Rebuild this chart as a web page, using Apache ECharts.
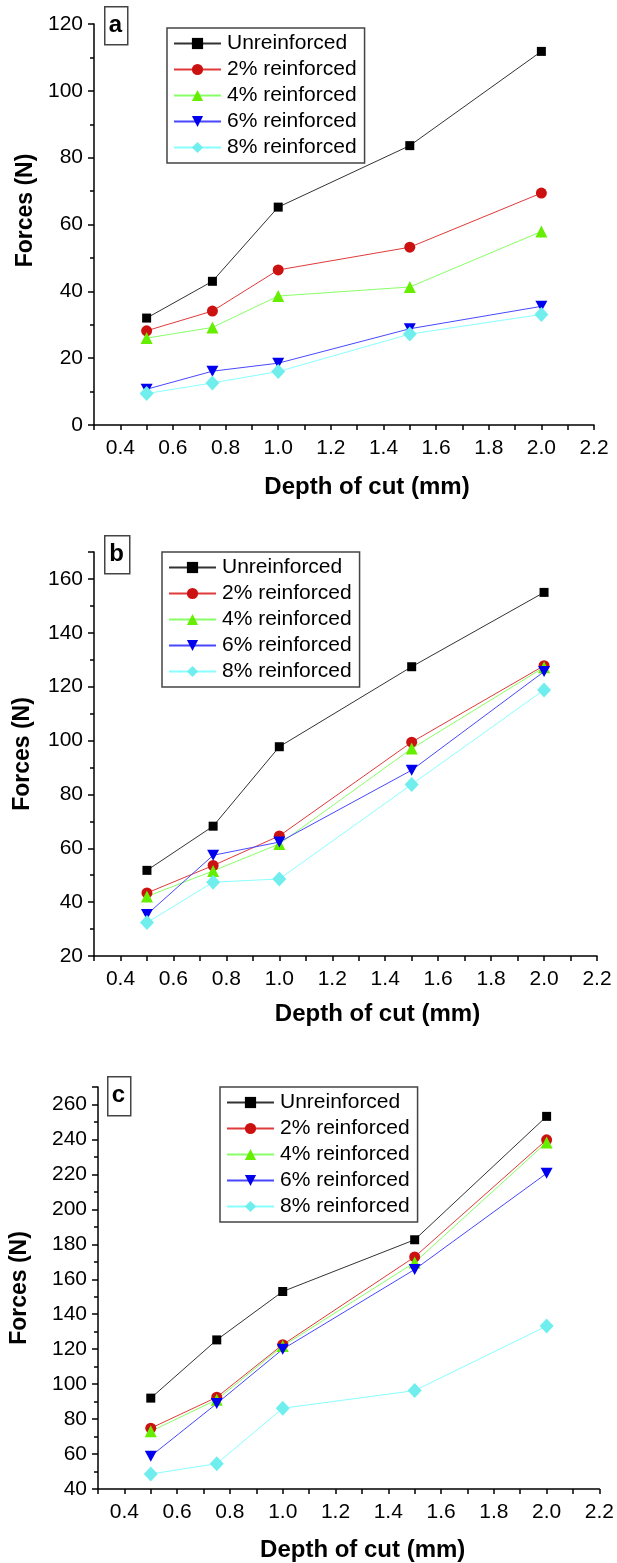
<!DOCTYPE html>
<html lang="en">
<head>
    <meta charset="UTF-8">
    <title>Forces vs depth of cut</title>
    <style>
        html, body { margin: 0; padding: 0; background: #fff; }
        #main { width: 617px; height: 1563px; }
    </style>
    <script src="https://cdn.jsdelivr.net/npm/echarts@6/dist/echarts.min.js"></script>
</head>
<body>
    <div id="main"></div>
    <script>
        // data
        var depth = [0.5, 0.75, 1.0, 1.5, 2.0];
        var seriesNames = ['Unreinforced', '2% reinforced', '4% reinforced', '6% reinforced', '8% reinforced'];

        // panel a
        var aUnreinforced = [32, 43, 65.2, 83.6, 111.8];
        var a2 = [28.2, 34.1, 46.4, 53.2, 69.4];
        var a4 = [26, 29.2, 38.6, 41.3, 57.9];
        var a6 = [10.7, 16.1, 18.5, 28.8, 35.5];
        var a8 = [9.4, 12.6, 16, 27.2, 33.1];

        // panel b
        var bUnreinforced = [51.8, 68.2, 97.7, 127.4, 155];
        var b2 = [43.4, 53.6, 64.6, 99.4, 127.8];
        var b4 = [42.1, 51.6, 61.6, 97, 127.2];
        var b6 = [35.4, 57.4, 62.3, 89, 125.6];
        var b8 = [32.4, 47.4, 48.6, 83.7, 118.8];

        // panel c
        var cUnreinforced = [92, 125.3, 153, 182.6, 253.2];
        var c2 = [74.8, 92.5, 122.6, 172.8, 239.8];
        var c4 = [73, 91.1, 121.8, 169.6, 238.3];
        var c6 = [58.8, 88.9, 120, 165.6, 220.6];
        var c8 = [48.6, 54.5, 86.2, 96.3, 133.2];

        var panelLetters = ['a', 'b', 'c'];
        var panelData = [
            [aUnreinforced, a2, a4, a6, a8],
            [bUnreinforced, b2, b4, b6, b8],
            [cUnreinforced, c2, c4, c6, c8]
        ];
        var yMin = [0, 20, 40];
        var yMax = [120, 170, 270];

        var FONT = "'Liberation Sans', Arial, sans-serif";

        var styles = [
            { symbol: 'rect', size: 9, marker: '#000000', line: '#333333' },
            { symbol: 'circle', size: 11, marker: '#cc1111', line: '#e03a3a' },
            { symbol: 'triangle', size: 12, marker: '#66ee00', line: '#88ff66' },
            { symbol: 'path://M0,0L10,0L5,9Z', size: [12, 11], marker: '#0000ee', line: '#4848ff' },
            { symbol: 'diamond', size: [14, 15], marker: '#70eeee', line: '#88ffff' }
        ];

        var grids = [
            { left: 94, right: 23, top: 24, bottom: 1138 },
            { left: 94, right: 20, top: 552, bottom: 607 },
            { left: 97, right: 17, top: 1087, bottom: 71 }
        ];
        var xNameGap = [50, 46, 49];
        var xNameShift = [46, 64, 28];
        var yNameGap = [54, 60, 67];
        var yNameShift = [28, 0, 0];

        var legendPos = [
            { left: 167, top: 28 },
            { left: 162, top: 552 },
            { left: 220, top: 1087 }
        ];
        var letterBox = [
            { x: 104, y: 6, w: 23, h: 38 },
            { x: 104, y: 535, w: 25, h: 38 },
            { x: 107, y: 1076, w: 23, h: 39 }
        ];

        var xAxes = [], yAxes = [], series = [], legends = [], graphics = [];

        for (var p = 0; p < 3; p++) {
            xAxes.push({
                type: 'value',
                gridIndex: p,
                min: 0.3,
                max: 2.2,
                interval: 0.1,
                name: 'Depth of cut (mm)',
                nameLocation: 'middle',
                nameGap: xNameGap[p],
                nameTextStyle: { fontFamily: FONT, fontSize: 24, fontWeight: 'bold', color: '#000', padding: [0, 0, 0, xNameShift[p]] },
                axisLine: { onZero: false, lineStyle: { color: '#000', width: 1.5 } },
                axisTick: { inside: false, length: 5, lineStyle: { color: '#000', width: 1.5 } },
                axisLabel: {
                    margin: 13,
                    fontFamily: FONT, fontSize: 21, color: '#000',
                    formatter: function (v) {
                        return Math.round(v * 10) % 2 === 0 ? v.toFixed(1) : '';
                    }
                },
                splitLine: { show: false }
            });
            yAxes.push({
                type: 'value',
                gridIndex: p,
                min: yMin[p],
                max: yMax[p],
                interval: 20,
                name: 'Forces (N)',
                nameLocation: 'middle',
                nameGap: yNameGap[p],
                nameTextStyle: { fontFamily: FONT, fontSize: 23, fontWeight: 'bold', color: '#000', padding: [0, 0, 0, yNameShift[p]] },
                axisLine: { onZero: false, lineStyle: { color: '#000', width: 1.5 } },
                axisTick: { inside: false, length: 6, lineStyle: { color: '#000', width: 1.5 } },
                minorTick: { show: true, splitNumber: 2, length: 4, lineStyle: { color: '#000', width: 1.5 } },
                axisLabel: {
                    margin: 11,
                    fontFamily: FONT, fontSize: 21, color: '#000',
                    formatter: function (v) { return v % 20 === 0 ? String(v) : ''; }
                },
                splitLine: { show: false }
            });

            for (var s = 0; s < 5; s++) {
                var vals = panelData[p][s];
                series.push({
                    name: seriesNames[s],
                    type: 'line',
                    xAxisIndex: p,
                    yAxisIndex: p,
                    symbol: styles[s].symbol,
                    symbolSize: styles[s].size,
                    showAllSymbol: true,
                    animation: false,
                    lineStyle: { color: styles[s].line, width: 1 },
                    itemStyle: { color: styles[s].marker },
                    data: depth.map(function (d, i) { return [d, vals[i]]; })
                });
            }

            legends.push({
                orient: 'vertical',
                left: legendPos[p].left,
                top: legendPos[p].top,
                data: seriesNames,
                itemWidth: 47,
                itemHeight: 14,
                itemGap: 5,
                padding: [5, 8, 5, 6],
                borderColor: '#444',
                borderWidth: 1.5,
                selectedMode: false,
                textStyle: { fontFamily: FONT, fontSize: 21, color: '#000', lineHeight: 21, padding: [0, 0, 0, 1] }
            });

            var lb = letterBox[p];
            graphics.push({
                type: 'rect',
                left: lb.x, top: lb.y,
                shape: { width: lb.w, height: lb.h },
                style: { fill: '#fff', stroke: '#444', lineWidth: 1.5 }
            });
            graphics.push({
                type: 'text',
                x: lb.x + lb.w / 2,
                y: lb.y + lb.h / 2,
                style: {
                    text: panelLetters[p],
                    fontFamily: FONT, fontSize: 24, fontWeight: 'bold', fill: '#000',
                    align: 'center', verticalAlign: 'middle'
                }
            });
        }

        var myChart = echarts.init(document.getElementById('main'));
        myChart.setOption({
            backgroundColor: '#fff',
            animation: false,
            grid: grids,
            xAxis: xAxes,
            yAxis: yAxes,
            legend: legends,
            graphic: graphics,
            series: series
        });
    </script>
</body>
</html>
